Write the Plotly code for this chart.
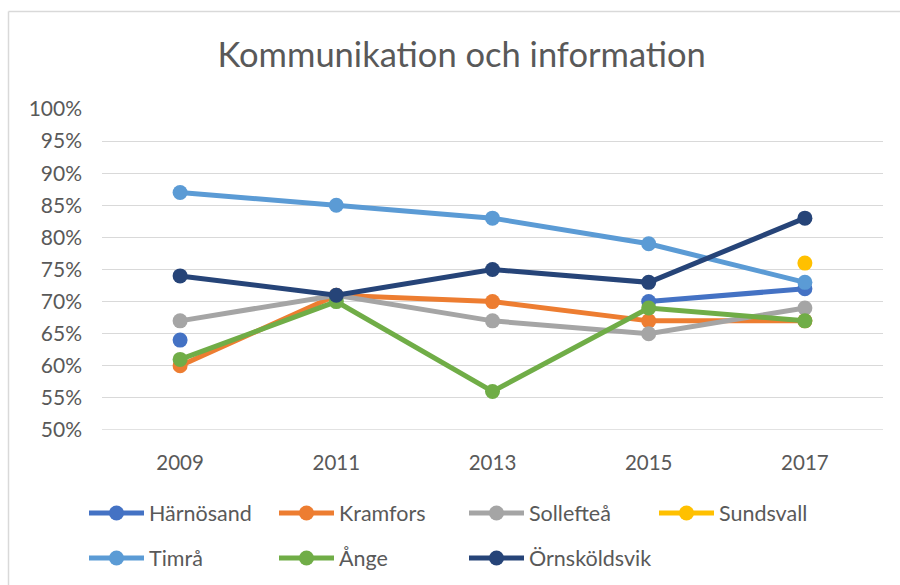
import plotly.graph_objects as go

years = ["2009", "2011", "2013", "2015", "2017"]
harnosand = [64, None, None, 70, 72]
kramfors = [60, 71, 70, 67, 67]
solleftea = [67, 71, 67, 65, 69]
sundsvall = [None, None, None, None, 76]
timra = [87, 85, 83, 79, 73]
ange = [61, 70, 56, 69, 67]
ornskoldsvik = [74, 71, 75, 73, 83]

series = [
    ("Härnösand", harnosand, "#4472C4", "legend"),
    ("Kramfors", kramfors, "#ED7D31", "legend"),
    ("Sollefteå", solleftea, "#A5A5A5", "legend"),
    ("Sundsvall", sundsvall, "#FFC000", "legend"),
    ("Timrå", timra, "#5B9BD5", "legend2"),
    ("Ånge", ange, "#70AD47", "legend2"),
    ("Örnsköldsvik", ornskoldsvik, "#264478", "legend2"),
]

FONT = "Lato, 'Open Sans', sans-serif"
GREY = "#595959"

fig = go.Figure()
for name, vals, col, lg in series:
    fig.add_trace(go.Scatter(
        x=years, y=vals, name=name, mode="lines+markers",
        line=dict(color=col, width=5),
        marker=dict(color=col, size=15),
        connectgaps=False, legend=lg,
    ))

L, R, T, B = 102, 17, 109, 155
W, H = 900, 585
pw, ph = W - L - R, H - T - B

def px(x):
    return (x - L) / pw

def py(y):
    return (H - B - y) / ph

legend_common = dict(orientation="h", xanchor="left", yanchor="middle",
                     xref="container", yref="container",
                     entrywidth=120, entrywidthmode="pixels",
                     font=dict(size=21.5, color=GREY, family=FONT),
                     itemwidth=55, bgcolor="rgba(0,0,0,0)")

fig.update_layout(
    width=W, height=H,
    margin=dict(l=L, r=R, t=T, b=B, autoexpand=False),
    paper_bgcolor="white", plot_bgcolor="white",
    font=dict(family=FONT, color=GREY, size=20),
    title=dict(text="Kommunikation och information", x=0.513, xanchor="center",
               y=1 - 55 / H, yanchor="middle",
               font=dict(size=34.5, color=GREY, family=FONT)),
    xaxis=dict(type="category", range=[-0.5, 4.5], showgrid=False,
               showline=False, ticks="", tickfont=dict(size=20.5, color=GREY),
               zeroline=False, ticklabelstandoff=18),
    yaxis=dict(range=[50, 100], tickvals=list(range(50, 101, 5)),
               ticktext=[f"{v}%" for v in range(50, 101, 5)],
               showgrid=True, gridcolor="#D9D9D9", gridwidth=1.3,
               zeroline=False, showline=False, ticks="",
               tickfont=dict(size=21, color=GREY), ticklabelstandoff=19),
    showlegend=True,
    legend=dict(x=84 / W, y=1 - 513 / H, **legend_common),
    legend2=dict(x=84 / W, y=1 - 558 / H, **legend_common),
    shapes=[
        dict(type="line", xref="paper", yref="paper",
             x0=px(8.5), x1=px(W + 5), y0=py(11.5), y1=py(11.5),
             line=dict(color="#D9D9D9", width=1.5)),
        dict(type="line", xref="paper", yref="paper",
             x0=px(8.5), x1=px(8.5), y0=py(11.5), y1=py(H + 5),
             line=dict(color="#D9D9D9", width=1.5)),
        dict(type="line", xref="paper", yref="y",
             x0=0, x1=1, y0=50, y1=50,
             line=dict(color="#D9D9D9", width=1.3), layer="below"),
    ],
)

fig.write_html("out.html", config={"displayModeBar": False},
               post_script="document.body.style.margin='0';")
